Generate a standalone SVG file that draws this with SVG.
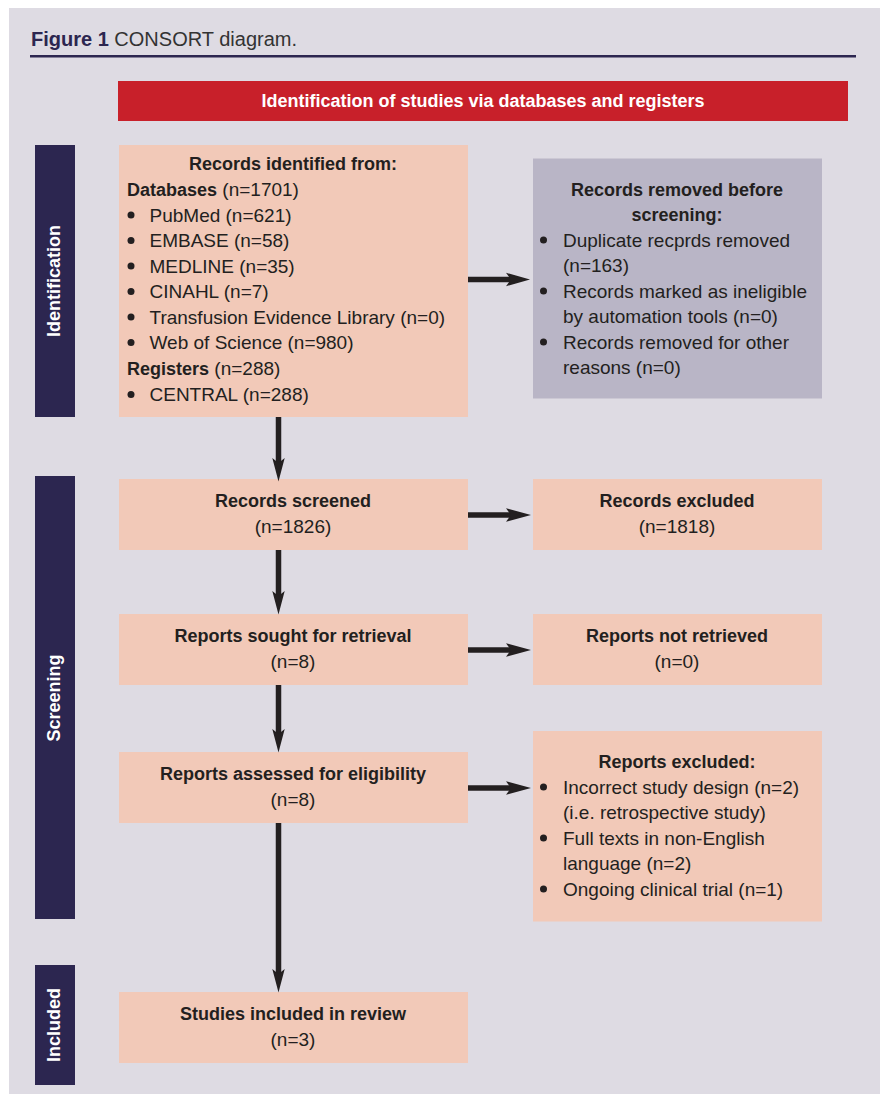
<svg xmlns="http://www.w3.org/2000/svg" width="880" height="1094" viewBox="0 0 880 1094">
<style>
text{font-family:"Liberation Sans",Arial,sans-serif;fill:#231f20}
.b{font-weight:bold;font-size:18px}
.r{font-size:19px}
.c{text-anchor:middle}
.w{fill:#ffffff;font-weight:bold;font-size:18px;text-anchor:middle}
.box{fill:#f2c9b8}
.grey{fill:#b9b5c6}
.bar{fill:#2c2650}
.dot{fill:#231f20}
.shaft{stroke:#231f20;stroke-width:5.5;fill:none}
.head{fill:#231f20}
</style>
<rect x="9" y="8" width="871" height="1086" fill="#dedbe3"/>
<g id="title">
<text x="31" y="46" style="font-size:20px"><tspan font-weight="bold" fill="#2c2650">Figure 1</tspan><tspan fill="#333333"> CONSORT diagram.</tspan></text>
<rect x="30" y="55" width="826" height="2.5" fill="#2c2650"/>
</g>
<g id="banner">
<rect x="118" y="81" width="730" height="40" fill="#c8202a"/>
<text class="w" x="483" y="107">Identification of studies via databases and registers</text>
</g>
<g id="phase-identification">
<rect class="bar" x="35" y="145" width="40" height="272"/>
<text class="w" transform="translate(60,281) rotate(-90)">Identification</text>
</g>
<g id="phase-screening">
<rect class="bar" x="35" y="476" width="40" height="443"/>
<text class="w" transform="translate(60,698) rotate(-90)">Screening</text>
</g>
<g id="phase-included">
<rect class="bar" x="35" y="965" width="40" height="120"/>
<text class="w" transform="translate(60,1025) rotate(-90)">Included</text>
</g>
<g id="records-identified">
<rect class="box" x="119" y="145" width="349" height="272"/>
<text class="b c" x="293" y="170">Records identified from:</text>
<text x="127" y="196" class="r"><tspan font-weight="bold" font-size="18">Databases</tspan> (n=1701)</text>
<circle class="dot" cx="131" cy="215" r="3.5"/><text class="r" x="149.5" y="221.5">PubMed (n=621)</text>
<circle class="dot" cx="131" cy="240.5" r="3.5"/><text class="r" x="149.5" y="247">EMBASE (n=58)</text>
<circle class="dot" cx="131" cy="266" r="3.5"/><text class="r" x="149.5" y="272.5">MEDLINE (n=35)</text>
<circle class="dot" cx="131" cy="291.5" r="3.5"/><text class="r" x="149.5" y="298">CINAHL (n=7)</text>
<circle class="dot" cx="131" cy="317" r="3.5"/><text class="r" x="149.5" y="323.5">Transfusion Evidence Library (n=0)</text>
<circle class="dot" cx="131" cy="342.5" r="3.5"/><text class="r" x="149.5" y="349">Web of Science (n=980)</text>
<text x="127" y="375" class="r"><tspan font-weight="bold" font-size="18">Registers</tspan> (n=288)</text>
<circle class="dot" cx="131" cy="394.5" r="3.5"/><text class="r" x="149.5" y="401">CENTRAL (n=288)</text>
</g>
<g id="records-removed">
<rect class="grey" x="533" y="158.5" width="289" height="240"/>
<text class="b c" x="677" y="195.5">Records removed before</text>
<text class="b c" x="677" y="221">screening:</text>
<circle class="dot" cx="543.5" cy="240" r="3.5"/><text class="r" x="563" y="246.5">Duplicate recprds removed</text>
<text class="r" x="563" y="272">(n=163)</text>
<circle class="dot" cx="543.5" cy="291" r="3.5"/><text class="r" x="563" y="297.5">Records marked as ineligible</text>
<text class="r" x="563" y="323">by automation tools (n=0)</text>
<circle class="dot" cx="543.5" cy="342" r="3.5"/><text class="r" x="563" y="348.5">Records removed for other</text>
<text class="r" x="563" y="374">reasons (n=0)</text>
</g>
<g id="records-screened">
<rect class="box" x="119" y="479" width="349" height="71"/>
<text class="b c" x="293" y="507">Records screened</text>
<text class="r c" x="293" y="533">(n=1826)</text>
</g>
<g id="records-excluded">
<rect class="box" x="533" y="479" width="289" height="71"/>
<text class="b c" x="677" y="507">Records excluded</text>
<text class="r c" x="677" y="533">(n=1818)</text>
</g>
<g id="reports-sought">
<rect class="box" x="119" y="614" width="349" height="71"/>
<text class="b c" x="293" y="642">Reports sought for retrieval</text>
<text class="r c" x="293" y="668">(n=8)</text>
</g>
<g id="reports-not-retrieved">
<rect class="box" x="533" y="614" width="289" height="71"/>
<text class="b c" x="677" y="642">Reports not retrieved</text>
<text class="r c" x="677" y="668">(n=0)</text>
</g>
<g id="reports-assessed">
<rect class="box" x="119" y="752" width="349" height="71"/>
<text class="b c" x="293" y="780">Reports assessed for eligibility</text>
<text class="r c" x="293" y="806">(n=8)</text>
</g>
<g id="reports-excluded">
<rect class="box" x="533" y="731" width="289" height="190.5"/>
<text class="b c" x="677" y="768">Reports excluded:</text>
<circle class="dot" cx="543.5" cy="787" r="3.5"/><text class="r" x="563" y="793.5">Incorrect study design (n=2)</text>
<text class="r" x="563" y="819">(i.e. retrospective study)</text>
<circle class="dot" cx="543.5" cy="838" r="3.5"/><text class="r" x="563" y="844.5">Full texts in non-English</text>
<text class="r" x="563" y="870">language (n=2)</text>
<circle class="dot" cx="543.5" cy="889" r="3.5"/><text class="r" x="563" y="895.5">Ongoing clinical trial (n=1)</text>
</g>
<g id="studies-included">
<rect class="box" x="119" y="992" width="349" height="71"/>
<text class="b c" x="293" y="1020">Studies included in review</text>
<text class="r c" x="293" y="1046">(n=3)</text>
</g>
<g id="connectors">
<line class="shaft" x1="278.5" y1="417" x2="278.5" y2="464"/>
<path class="head" d="M272.3 458 L278.5 481.5 L284.7 458 L278.5 463 Z"/>
<line class="shaft" x1="278.5" y1="550" x2="278.5" y2="597"/>
<path class="head" d="M272.3 591 L278.5 614.5 L284.7 591 L278.5 596 Z"/>
<line class="shaft" x1="278.5" y1="685" x2="278.5" y2="735"/>
<path class="head" d="M272.3 729 L278.5 752.5 L284.7 729 L278.5 734 Z"/>
<line class="shaft" x1="278.5" y1="823" x2="278.5" y2="975"/>
<path class="head" d="M272.3 969 L278.5 992.5 L284.7 969 L278.5 974 Z"/>
<line class="shaft" x1="468" y1="279.5" x2="512" y2="279.5"/>
<path class="head" d="M506 272.8 L530 279.5 L506 286.2 L511 279.5 Z"/>
<line class="shaft" x1="468" y1="515" x2="512" y2="515"/>
<path class="head" d="M506 508.3 L531 515 L506 521.7 L511 515 Z"/>
<line class="shaft" x1="468" y1="650" x2="512" y2="650"/>
<path class="head" d="M506 643.3 L531 650 L506 656.7 L511 650 Z"/>
<line class="shaft" x1="468" y1="788" x2="512" y2="788"/>
<path class="head" d="M506 781.3 L531 788 L506 794.7 L511 788 Z"/>
</g>
</svg>
